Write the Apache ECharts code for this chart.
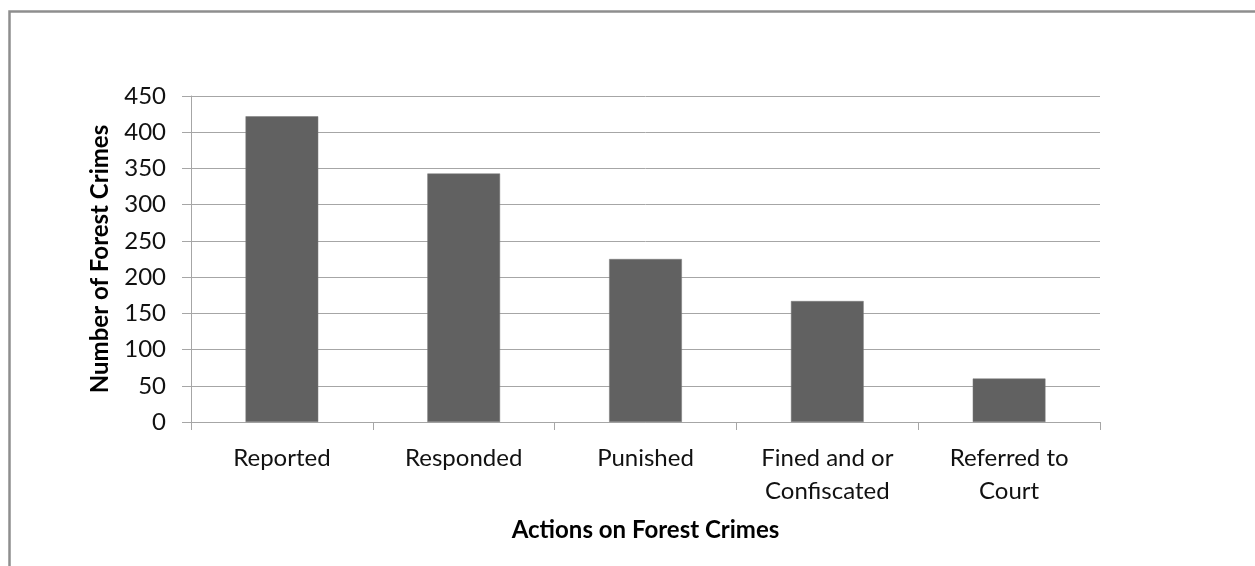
<!DOCTYPE html>
<html>
<head>
<meta charset="utf-8">
<script src="https://cdn.jsdelivr.net/npm/echarts@6/dist/echarts.min.js"></script>
<style>
  html, body { margin: 0; padding: 0; background: #fff; }
  #chart { width: 1255px; height: 566px; }
</style>
</head>
<body>
<div id="chart"></div>
<script>
// Actions taken on reported forest crimes
const categories = ['Reported', 'Responded', 'Punished', 'Fined and or\nConfiscated', 'Referred to\nCourt'];
const crimeCounts = [422, 343, 225, 167, 60];
const yTicks = { min: 0, max: 450, interval: 50 };

const FONT = 'Lato';
const chart = echarts.init(document.getElementById('chart'), null, { renderer: 'canvas' });

chart.setOption({
  backgroundColor: '#ffffff',
  animation: false,
  graphic: [{
    type: 'rect',
    silent: true,
    shape: { x: 9.5, y: 11.5, width: 1300, height: 700 },
    style: { fill: 'none', stroke: '#8e8e8e', lineWidth: 2.5 }
  }],
  grid: { left: 191, right: 155, top: 96, bottom: 144 },
  xAxis: {
    type: 'category',
    data: categories,
    name: 'Actions on Forest Crimes',
    nameLocation: 'middle',
    nameGap: 96,
    nameTextStyle: { fontFamily: FONT, fontSize: 24, fontWeight: 'bold', color: '#000' },
    axisLine: { show: true, lineStyle: { color: '#a6a6a6', width: 1 } },
    axisTick: { show: true, length: 8, lineStyle: { color: '#a6a6a6' } },
    axisLabel: { fontFamily: FONT, fontSize: 24, color: '#111', margin: 20, lineHeight: 33, interval: 0 }
  },
  yAxis: {
    type: 'value',
    min: yTicks.min,
    max: yTicks.max,
    interval: yTicks.interval,
    name: 'Number of Forest Crimes',
    nameLocation: 'middle',
    nameGap: 79,
    nameRotate: 90,
    nameTextStyle: { fontFamily: FONT, fontSize: 24, fontWeight: 'bold', color: '#000' },
    axisLine: { show: true, lineStyle: { color: '#a6a6a6', width: 1 } },
    axisTick: { show: true, length: 9, lineStyle: { color: '#a6a6a6' } },
    axisLabel: { fontFamily: FONT, fontSize: 24, color: '#111', margin: 25 },
    splitLine: { show: true, lineStyle: { color: '#a6a6a6', width: 1 } }
  },
  series: [{
    type: 'bar',
    data: crimeCounts,
    barWidth: '40%',
    itemStyle: { color: '#616161', borderColor: '#7a7a7a', borderWidth: 0.5 }
  }]
});
</script>
</body>
</html>
